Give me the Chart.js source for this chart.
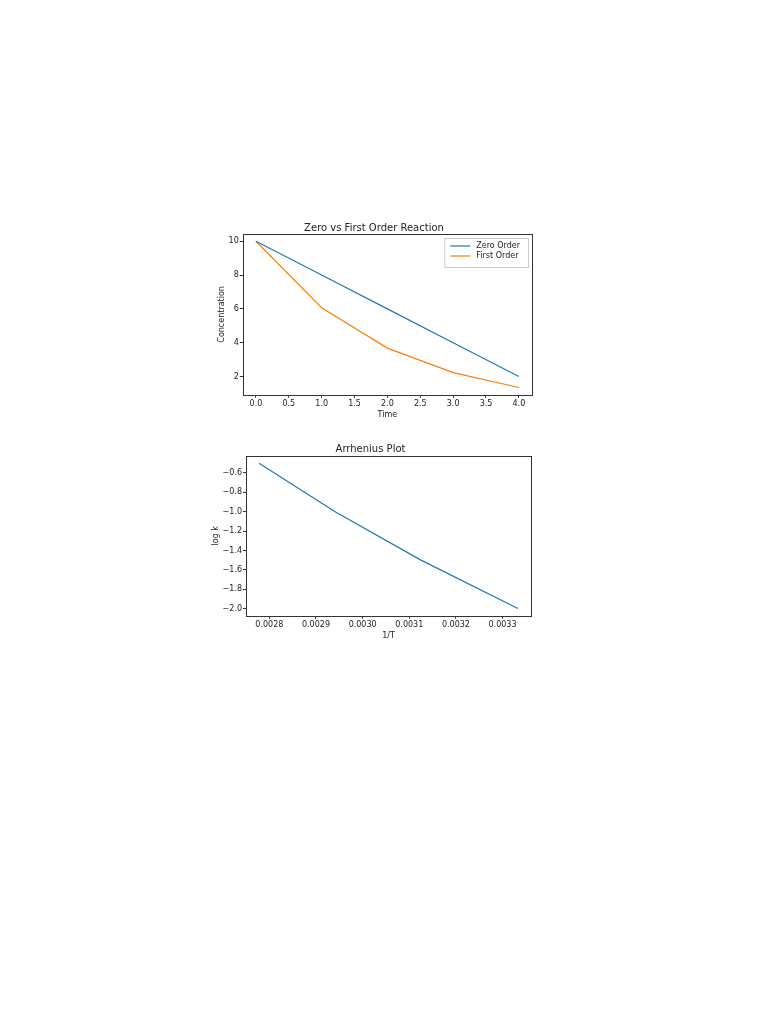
<!DOCTYPE html>
<html>
<head>
<meta charset="utf-8">
<script src="https://cdn.jsdelivr.net/npm/chart.js@4.4.1/dist/chart.umd.min.js"></script>
<style>
  body { margin: 0; background: #fff; width: 768px; height: 1024px; position: relative; }
  canvas { position: absolute; }
</style>
</head>
<body>
<canvas id="reactionChart" width="347" height="215" style="left:200px; top:212px;"></canvas>
<canvas id="arrheniusChart" width="347" height="211" style="left:200px; top:437px;"></canvas>
<script>
// Daten zu Reaktion
const time = [0, 1, 2, 3, 4];
const zeroOrder = [10, 8, 6, 4, 2];
const firstOrder = [10, 6.07, 3.68, 2.23, 1.35];
const timeTicks = [0, 0.5, 1, 1.5, 2, 2.5, 3, 3.5, 4];
const concTicks = [2, 4, 6, 8, 10];

// Daten zu Arrhenius
const invT = [0.002778, 0.002941, 0.003125, 0.003333];
const logK = [-0.5, -1.0, -1.5, -2.0];
const invTTicks = [0.0028, 0.0029, 0.0030, 0.0031, 0.0032, 0.0033];
const logKTicks = [-2.0, -1.8, -1.6, -1.4, -1.2, -1.0, -0.8, -0.6];

const fontFamily = "'DejaVu Sans', sans-serif";
const tickFont = { family: fontFamily, size: 8 };

function minus(s) {
    return s.replace('-', '\u2212');
}

// Rahmen um die Zeichenfläche
const framePlugin = {
    id: 'frame',
    afterDraw(chart) {
        const a = chart.chartArea;
        const ctx = chart.ctx;
        ctx.save();
        ctx.strokeStyle = '#333';
        ctx.lineWidth = 1;
        ctx.strokeRect(Math.round(a.left) + 0.5, Math.round(a.top) + 0.5,
            Math.round(a.right - a.left), Math.round(a.bottom - a.top));
        ctx.restore();
    }
};

// Legende innen oben rechts (wie matplotlib)
const innerLegend = {
    id: 'innerLegend',
    afterDraw(chart, args, opts) {
        if (!opts.display) return;
        const a = chart.chartArea;
        const ctx = chart.ctx;
        const sets = chart.data.datasets;
        ctx.save();
        ctx.font = "8px " + fontFamily;
        const textW = Math.max(...sets.map(d => ctx.measureText(d.label).width));
        const w = 8 + 20 + 6 + textW + 6;
        const h = 6 + sets.length * 10 + 3;
        const x = a.right - w - 4;
        const y = a.top + 4;
        ctx.fillStyle = 'rgba(255,255,255,0.8)';
        ctx.strokeStyle = '#ccc';
        ctx.lineWidth = 1;
        ctx.fillRect(x, y, w, h);
        ctx.strokeRect(x + 0.5, y + 0.5, w, h);
        sets.forEach((d, i) => {
            const ly = y + 8 + i * 10;
            ctx.strokeStyle = d.borderColor;
            ctx.lineWidth = 1.2;
            ctx.beginPath();
            ctx.moveTo(x + 6, ly);
            ctx.lineTo(x + 26, ly);
            ctx.stroke();
            ctx.fillStyle = '#222';
            ctx.textBaseline = 'middle';
            ctx.fillText(d.label, x + 32, ly);
        });
        ctx.restore();
    }
};

function axis(title, ticks, min, max, fmt) {
    return {
        type: 'linear',
        min: min,
        max: max,
        afterBuildTicks: s => { s.ticks = ticks.map(v => ({ value: v })); },
        grid: { display: true, drawOnChartArea: false, drawTicks: true, tickLength: 3, color: '#333' },
        border: { display: false },
        ticks: { font: tickFont, color: '#222', padding: 1, maxRotation: 0, autoSkip: false, callback: fmt },
        title: { display: true, text: title, font: { family: fontFamily, size: 8 }, color: '#222', padding: 1 }
    };
}

function lineSet(label, xs, ys, color) {
    return {
        label: label,
        data: xs.map((x, i) => ({ x: x, y: ys[i] })),
        borderColor: color,
        backgroundColor: color,
        borderWidth: 1.2,
        pointRadius: 0,
        tension: 0,
        fill: false
    };
}

new Chart(document.getElementById('reactionChart'), {
    type: 'line',
    data: {
        datasets: [
            lineSet('Zero Order', time, zeroOrder, '#1f77b4'),
            lineSet('First Order', time, firstOrder, '#ff7f0e')
        ]
    },
    options: {
        responsive: false,
        animation: false,
        layout: { padding: { left: 16, right: 15, top: 0, bottom: 6 } },
        plugins: {
            legend: { display: false },
            tooltip: { enabled: false },
            innerLegend: { display: true },
            title: { display: true, text: 'Zero vs First Order Reaction', font: { family: fontFamily, size: 10, weight: 'normal' }, color: '#222', padding: { top: 10, bottom: 0 } }
        },
        scales: {
            x: axis('Time', timeTicks, -0.2, 4.2, v => v.toFixed(1)),
            y: axis('Concentration', concTicks, 0.92, 10.43, v => String(v))
        }
    },
    plugins: [framePlugin, innerLegend]
});

new Chart(document.getElementById('arrheniusChart'), {
    type: 'line',
    data: {
        datasets: [lineSet('log k', invT, logK, '#1f77b4')]
    },
    options: {
        responsive: false,
        animation: false,
        layout: { padding: { left: 10, right: 16, top: 0, bottom: 6 } },
        plugins: {
            legend: { display: false },
            tooltip: { enabled: false },
            innerLegend: { display: false },
            title: { display: true, text: 'Arrhenius Plot', font: { family: fontFamily, size: 10, weight: 'normal' }, color: '#222', padding: { top: 6, bottom: 1 } }
        },
        scales: {
            x: axis('1/T', invTTicks, 0.00275, 0.003361, v => v.toFixed(4)),
            y: axis('log k', logKTicks, -2.075, -0.425, v => minus(v.toFixed(1)))
        }
    },
    plugins: [framePlugin, innerLegend]
});
</script>
</body>
</html>
